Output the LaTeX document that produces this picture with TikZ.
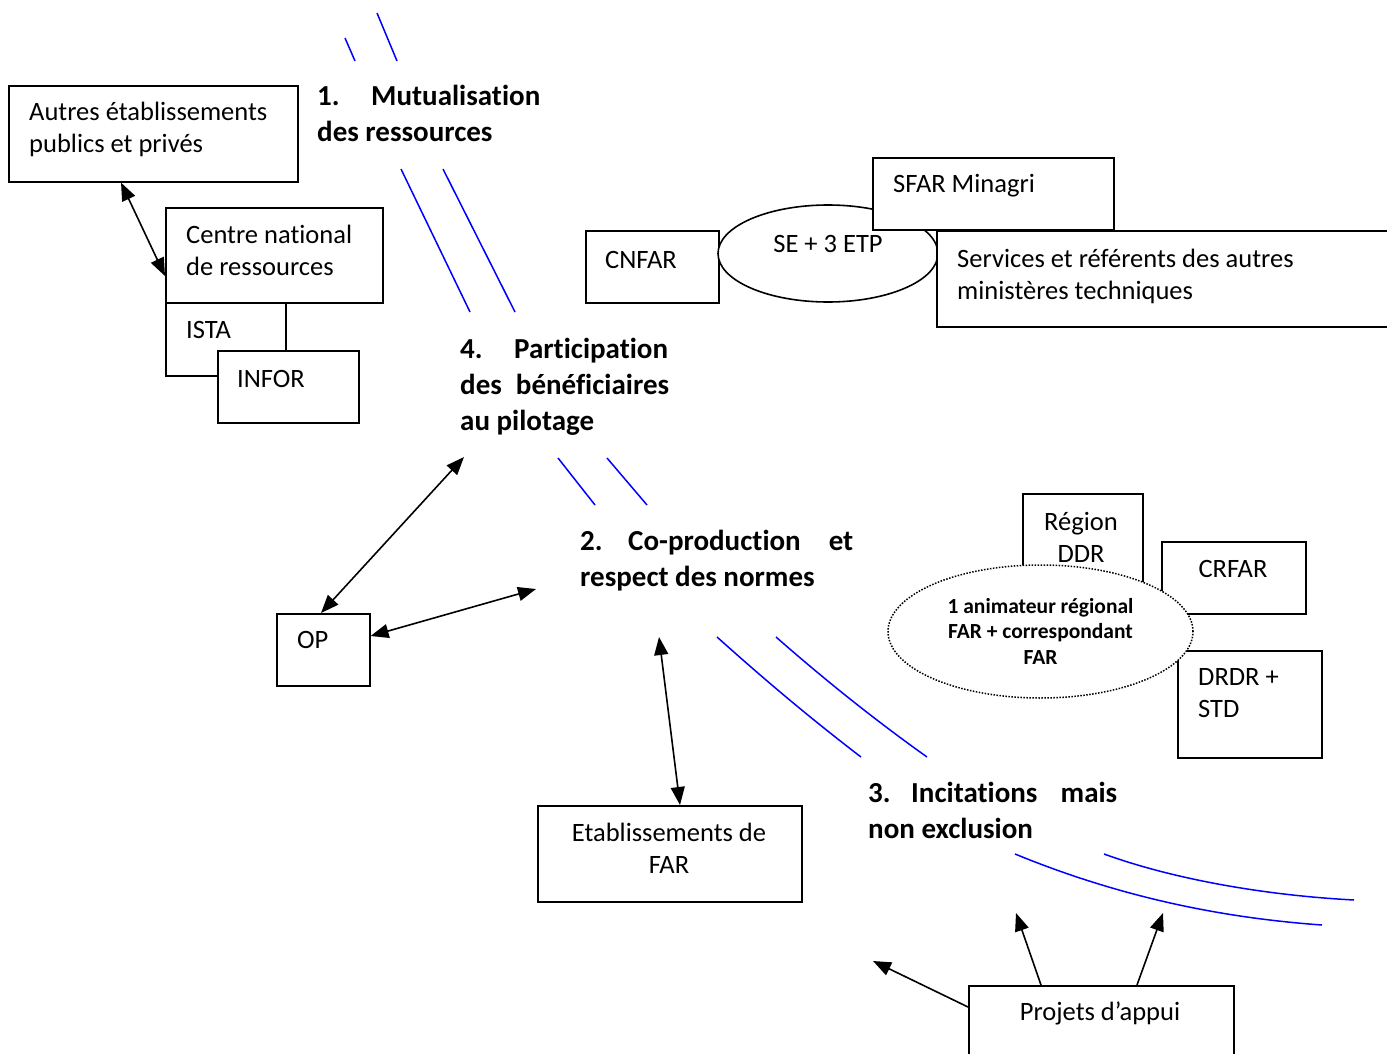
\documentclass[tikz,border=0pt]{standalone}
\usepackage{fontspec}
\setmainfont{Carlito}[Ligatures=NoCommon]
\usetikzlibrary{arrows.meta,shapes.geometric}

% multi-line blocks whose baseline is the first line
\newcommand\stackL[1]{\begin{tabular}[t]{@{}l@{}}#1\end{tabular}}
\newcommand\stackC[1]{\begin{tabular}[t]{@{}c@{}}#1\end{tabular}}

\begin{document}
\begin{tikzpicture}[x=1pt,y=-1pt,
  box/.style={draw,line width=1.6pt,fill=white,inner sep=0pt,anchor=north west},
  txt/.style={inner sep=0pt,anchor=base west,font=\fontsize{26.5}{32}\selectfont},
  ctxt/.style={txt,anchor=base},
  head/.style={inner sep=0pt,anchor=base west,font=\fontsize{29}{36}\selectfont\bfseries},
  axis/.style={draw=blue,line width=1.5pt},
  tip/.tip={Triangle[length=18pt,width=14pt]},
  link/.style={draw,line width=1.6pt,tip-tip},
  push/.style={draw,line width=1.6pt,-tip},
]
\useasboundingbox (0,0) rectangle (1387,1054);

% ---- national resources cluster
\node[box,minimum width=289pt,minimum height=96pt] (autres) at (8,85) {};
\node[box,minimum width=217pt,minimum height=95pt] (centre) at (165,207) {};
\node[box,minimum width=120pt,minimum height=73pt] (ista) at (165,302) {};
\node[box,minimum width=141pt,minimum height=72pt] (infor) at (217,350) {};
\node[txt] (tautres) at (29,121) {\stackL{Autres établissements\\publics et privés}};
\node[txt] (tcentre) at (186,243) {\stackL{Centre national\\de ressources}};
\node[txt] (tista) at (186,338) {ISTA};
\node[txt] (tinfor) at (237,387) {INFOR};

% ---- steering bodies
\node[box,minimum width=133pt,minimum height=72pt] (cnfar) at (585,230) {};
\node[draw,ellipse,line width=1.6pt,fill=white,inner sep=0pt,
      minimum width=220pt,minimum height=97pt] (se) at (828,253.5) {};
\node[box,minimum width=241pt,minimum height=72pt] (sfar) at (872,157) {};
\node[box,minimum width=470pt,minimum height=96pt] (serv) at (936,230) {};
\node[txt] (tcnfar) at (605,268) {CNFAR};
\node[ctxt] (tse) at (828,252) {SE + 3 ETP};
\node[txt] (tsfar) at (893,193) {SFAR Minagri};
\node[txt] (tserv) at (957,267) {\stackL{Services et référents des autres\\ministères techniques}};

% ---- regional level
\node[box,minimum width=120pt,minimum height=107pt] (region) at (1022,493) {};
\node[box,minimum width=144pt,minimum height=72pt] (crfar) at (1161,541) {};
\node[box,minimum width=144pt,minimum height=107pt] (drdr) at (1177,650) {};
\node[draw,ellipse,line width=1.5pt,dash pattern=on 1.5pt off 1.5pt,fill=white,inner sep=0pt,
      minimum width=305pt,minimum height=133pt] (anim) at (1040.5,631.5) {};
\node[ctxt] (tregion) at (1081,530) {\stackC{Région\\DDR}};
\node[ctxt] (tcrfar) at (1233,577) {CRFAR};
\node[txt] (tdrdr) at (1198,685) {\stackL{DRDR +\\STD}};
\node[inner sep=0pt,anchor=base,font=\fontsize{21.5}{25.5}\selectfont\bfseries] (tanim)
      at (1040.5,613) {\stackC{1 animateur régional\\FAR + correspondant\\FAR}};

% ---- actors
\node[box,minimum width=93pt,minimum height=72pt] (op) at (276,613) {};
\node[txt] (top) at (297,648) {OP};
\node[box,minimum width=264pt,minimum height=96pt] (etab) at (537,805) {};
\node[ctxt] (tetab) at (669,841) {\stackC{Etablissements de\\FAR}};
\node[box,minimum width=265pt,minimum height=100pt] (projets) at (968,985) {};
\node[ctxt] (tprojets) at (1100,1020) {Projets d’appui};

% ---- the four principles
\node[head] (h1) at (317,106) {\stackL{\makebox[54pt][l]{1.}Mutualisation\\des ressources}};
\node[head] (h4) at (460,358) {\stackL{\makebox[54pt][l]{4.}Participation\\\makebox[209pt][s]{des\hfill bénéficiaires}\\au pilotage}};
\node[head] (h2) at (580,550) {\stackL{\makebox[273pt][s]{\makebox[48pt][l]{2.}Co-production\hfill et}\\respect des normes}};
\node[head] (h3) at (868,802) {\stackL{\makebox[249pt][s]{\makebox[43pt][l]{3.}Incitations\hfill mais}\\non exclusion}};

% ---- blue double strokes between the principles
\draw[axis] (345,38) -- (355,61);
\draw[axis] (377,13) -- (397,61);
\draw[axis] (401,169) -- (470,312);
\draw[axis] (443,169) -- (515,312);
\draw[axis] (558,458) -- (595,505);
\draw[axis] (607,458) -- (647,505);
\draw[axis] (717,637) .. controls (765,680) and (810,718) .. (861,757);
\draw[axis] (776,637) .. controls (825,680) and (875,720) .. (927,757);
\draw[axis] (1015,854) .. controls (1110,893) and (1210,917) .. (1322,925);
\draw[axis] (1104,854) .. controls (1170,878) and (1260,895) .. (1354,900);

% ---- free arrow ends near the principles
\coordinate (p4) at (464,457);
\coordinate (p2a) at (536,589);
\coordinate (p2b) at (659,637);
\coordinate (p3a) at (873,961);
\coordinate (p3b) at (1016,913);
\coordinate (p3c) at (1163,913);

% ---- connectors
\draw[link] ([xshift=113pt]autres.south west) -- ([yshift=-69pt]centre.north west);
\draw[link] ([xshift=45pt]op.north west) -- (p4);
\draw[link] ([yshift=-23pt]op.north east) -- (p2a);
\draw[link] ([xshift=143pt]etab.north west) -- (p2b);
\draw[push] ([yshift=-22pt]projets.north west) -- (p3a);
\draw[push] ([xshift=73pt]projets.north west) -- (p3b);
\draw[push] ([xshift=169pt]projets.north west) -- (p3c);
\end{tikzpicture}
\end{document}
